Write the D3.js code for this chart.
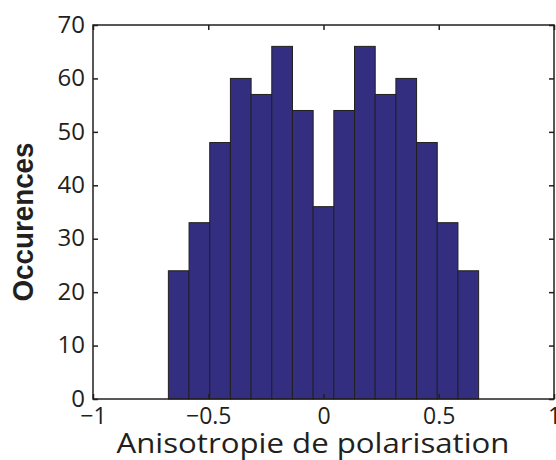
<!DOCTYPE html>
<html><head><meta charset="utf-8">
<script src="https://cdn.jsdelivr.net/npm/d3@7"></script>
<style>body{margin:0;background:#fff}svg{display:block}text{fill:#231f20}</style>
</head><body><svg id="c" width="556" height="460"></svg>
<script>
const binEdgeMin = -0.673, binEdgeMax = 0.673;
const counts = [24, 33, 48, 60, 57, 66, 54, 36, 54, 66, 57, 60, 48, 33, 24];
const xTicks = [-1, -0.5, 0, 0.5, 1];
const xTickLabels = ["\u22121", "\u22120.5", "0", "0.5", "1"];
const yTicks = [0, 10, 20, 30, 40, 50, 60, 70];
const xLabel = "Anisotropie de polarisation";
const yLabel = "Occurences";

const svg = d3.select("#c");
const m = {l: 93, r: 554, t: 25, b: 399};
const x = d3.scaleLinear().domain([-1, 1]).range([m.l, m.r]);
const y = d3.scaleLinear().domain([0, 70]).range([m.b, m.t]);
const w = (binEdgeMax - binEdgeMin) / counts.length;
const bins = counts.map((c, i) => ({x0: binEdgeMin + i * w, x1: binEdgeMin + (i + 1) * w, c}));

svg.append("g").selectAll("rect").data(bins).join("rect")
  .attr("x", d => x(d.x0)).attr("width", d => x(d.x1) - x(d.x0))
  .attr("y", d => y(d.c)).attr("height", d => y(0) - y(d.c))
  .attr("fill", "#332e80").attr("stroke", "#231f20").attr("stroke-width", 1);

const col = "#231f20";
svg.append("rect").attr("x", m.l).attr("y", m.t).attr("width", m.r - m.l).attr("height", m.b - m.t)
  .attr("fill", "none").attr("stroke", col).attr("stroke-width", 1.5);

const xa = d3.axisBottom(x).tickValues(xTicks).tickSize(-5).tickFormat((d, i) => xTickLabels[i]);
const gx = svg.append("g").attr("transform", `translate(0,${m.b})`).call(xa);
gx.select(".domain").remove();
gx.selectAll("line").attr("stroke", col).attr("stroke-width", 1.5);
gx.selectAll("text").attr("font-family", "Open Sans, sans-serif").attr("font-size", 23).attr("fill", col)
  .attr("y", 25).attr("dy", 0);
const xt = d3.axisTop(x).tickValues(xTicks).tickSize(-5).tickFormat("");
const gxt = svg.append("g").attr("transform", `translate(0,${m.t})`).call(xt);
gxt.select(".domain").remove();
gxt.selectAll("line").attr("stroke", col).attr("stroke-width", 1.5);

const ya = d3.axisLeft(y).tickValues(yTicks).tickSize(-5).tickPadding(8);
const gy = svg.append("g").attr("transform", `translate(${m.l},0)`).call(ya);
gy.select(".domain").remove();
gy.selectAll("line").attr("stroke", col).attr("stroke-width", 1.5);
gy.selectAll("text").attr("font-family", "Open Sans, sans-serif").attr("font-size", 24).attr("fill", col).attr("dy", "0.3em");
const yr = d3.axisRight(y).tickValues(yTicks).tickSize(-5).tickFormat("");
const gyr = svg.append("g").attr("transform", `translate(${m.r},0)`).call(yr);
gyr.select(".domain").remove();
gyr.selectAll("line").attr("stroke", col).attr("stroke-width", 1.5);

svg.append("text").attr("x", 313).attr("y", 453).attr("text-anchor", "middle")
  .attr("font-family", "Open Sans, sans-serif").attr("font-size", 28)
  .attr("textLength", 393).attr("lengthAdjust", "spacingAndGlyphs").text(xLabel);

svg.append("text").attr("transform", "translate(33,222) rotate(-90)").attr("text-anchor", "middle")
  .attr("font-family", "Liberation Sans Narrow, Liberation Sans, Arial, sans-serif").attr("font-weight", "bold")
  .attr("font-size", 29).attr("textLength", 159).attr("lengthAdjust", "spacingAndGlyphs").text(yLabel);
</script></body></html>
